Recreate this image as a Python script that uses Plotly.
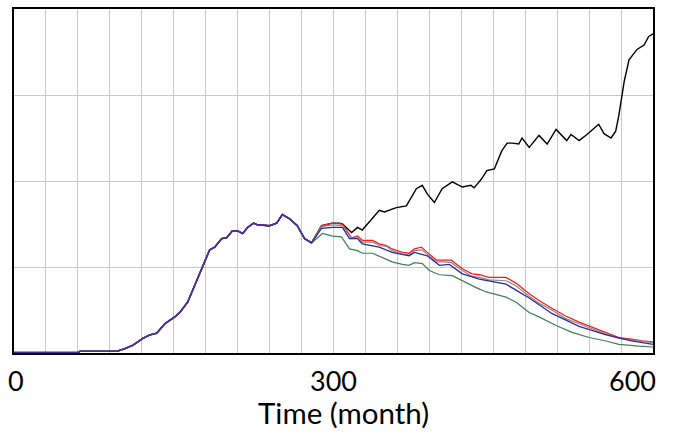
import plotly.graph_objects as go

# Shared trajectory (all runs identical up to ~month 279)
common_month = [0, 60, 62, 96, 96.6, 104, 111.6, 121, 127.5, 134, 141.6, 151, 155.6, 163, 169.7,
                177, 183.75, 188.4, 195, 199.7, 205, 210, 214.7, 219.4, 225, 228.75, 240, 246.6,
                252, 258.75, 266, 272.8, 279.4]
common_value = [0.005, 0.005, 0.02, 0.02, 0.02, 0.05, 0.09, 0.17, 0.21, 0.23, 0.34, 0.42, 0.47, 0.59, 0.79,
                1.02, 1.20, 1.23, 1.33, 1.34, 1.42, 1.42, 1.39, 1.46, 1.51, 1.49, 1.48, 1.51,
                1.61, 1.56, 1.48, 1.33, 1.28]

black_month = [288.75, 299, 305.6, 308.4, 317, 322.5, 327, 336.6, 343, 347.8, 359, 368.4, 377.8, 383.4,
               388, 394.7, 402, 411.6, 421, 429, 432, 438.75, 444, 451, 458, 463, 468, 474, 477, 483.75,
               493, 500.6, 509, 519, 523, 530.6, 538, 549, 554, 560.6, 565, 568, 573, 577.5, 585,
               591.6, 596, 600]
black_value = [1.48, 1.51, 1.51, 1.50, 1.40, 1.46, 1.43, 1.57, 1.66, 1.64, 1.69, 1.71, 1.91, 1.95,
               1.85, 1.75, 1.91, 1.99, 1.93, 1.95, 1.92, 2.02, 2.12, 2.14, 2.35, 2.44, 2.44, 2.43, 2.50, 2.39,
               2.53, 2.43, 2.60, 2.47, 2.54, 2.47, 2.54, 2.66, 2.55, 2.50, 2.58, 2.77, 3.16, 3.41, 3.53,
               3.58, 3.68, 3.71]

red_month = [288.75, 299, 308.4, 317, 322.5, 327, 336.6, 343, 349.7, 355, 364.7, 371, 376, 382.5, 388,
             396.6, 404, 410.6, 421, 430, 437, 446, 462, 471.6, 483.75, 493, 505, 518, 530.6, 542.8,
             556, 568, 580, 589.7, 600]
red_value = [1.48, 1.51, 1.50, 1.34, 1.36, 1.31, 1.31, 1.27, 1.25, 1.21, 1.17, 1.16, 1.21, 1.23, 1.17,
             1.08, 1.08, 1.08, 0.98, 0.92, 0.91, 0.88, 0.88, 0.81, 0.69, 0.61, 0.52, 0.43, 0.36, 0.30,
             0.23, 0.18, 0.16, 0.14, 0.13]

gray_month = red_month
gray_value = [1.47, 1.49, 1.48, 1.33, 1.35, 1.29, 1.29, 1.25, 1.24, 1.19, 1.15, 1.14, 1.19, 1.20, 1.15,
              1.06, 1.06, 1.05, 0.96, 0.89, 0.88, 0.85, 0.84, 0.78, 0.66, 0.58, 0.50, 0.40, 0.34, 0.28,
              0.22, 0.17, 0.15, 0.13, 0.12]

blue_month = [288.75, 299, 308.4, 315, 322.5, 327, 343, 355, 371, 376, 388, 399.4, 408.75, 421, 437,
              462, 483.75, 505, 530.6, 556, 580, 600]
blue_value = [1.45, 1.46, 1.46, 1.33, 1.33, 1.27, 1.23, 1.17, 1.13, 1.17, 1.13, 1.02, 1.03, 0.92, 0.86,
              0.80, 0.64, 0.46, 0.31, 0.21, 0.14, 0.10]

green_month = [289.7, 299, 307.5, 315, 322.5, 327, 336.6, 346, 355, 364.7, 371, 376, 383.4, 390, 399.4,
               411.6, 421, 434, 443.4, 462, 471.6, 483.75, 493, 509, 524, 540, 556, 568, 587, 600]
green_value = [1.39, 1.36, 1.35, 1.21, 1.19, 1.16, 1.16, 1.11, 1.06, 1.03, 1.02, 1.05, 1.04, 0.96, 0.91,
               0.90, 0.84, 0.76, 0.71, 0.65, 0.59, 0.47, 0.42, 0.32, 0.24, 0.18, 0.14, 0.10, 0.08, 0.07]

x_tick_values = [0, 300, 600]
x_tick_labels = ["0", "300", "600"]
x_title = "Time (month)"

series = [
    ("black", black_month, black_value, "#000000", 1.4),
    ("green", green_month, green_value, "#3f7f55", 1.2),
    ("red", red_month, red_value, "#ff1a1a", 1.3),
    ("gray", gray_month, gray_value, "#8c8c8c", 1.2),
    ("blue", blue_month, blue_value, "#2b2ba0", 1.3),
]

fig = go.Figure()
for name, mx, vy, color, w in series:
    fig.add_trace(go.Scatter(
        x=common_month + mx, y=common_value + vy, mode="lines", name=name,
        line=dict(color=color, width=w),
        hoverinfo="skip", showlegend=False,
    ))
# overlapping runs blend into a purple line on the shared section
fig.add_trace(go.Scatter(x=common_month, y=common_value, mode="lines", line=dict(color="#4b2f98", width=1.6),
                         hoverinfo="skip", showlegend=False))

fig.update_layout(
    width=673, height=433,
    margin=dict(l=14, r=20, t=7, b=80),
    paper_bgcolor="white", plot_bgcolor="white",
    font=dict(family="Lato, Noto Sans, sans-serif", color="black"),
)
fig.update_xaxes(range=[0, 600], dtick=30, tick0=0, showgrid=True, gridcolor="#c8c8c8", gridwidth=1,
                 showticklabels=False, ticks="", zeroline=False,
                 showline=True, linecolor="black", linewidth=2, mirror=True)
fig.update_yaxes(range=[0, 4], dtick=1, tick0=0, showgrid=True, gridcolor="#c8c8c8", gridwidth=1,
                 showticklabels=False, ticks="", zeroline=False,
                 showline=True, linecolor="black", linewidth=2, mirror=True)

anchors = {0: ("center", 2), 300: ("center", 0), 600: ("right", 5)}
for v, lab in zip(x_tick_values, x_tick_labels):
    xa, xs = anchors[v]
    fig.add_annotation(x=v, xref="x", y=0, yref="paper", text=lab, showarrow=False,
                       xanchor=xa, yanchor="middle", xshift=xs, yshift=-27,
                       font=dict(size=27, family="Lato, sans-serif", color="black"))
fig.add_annotation(x=0.5, xref="paper", y=0, yref="paper", text=x_title, showarrow=False,
                   xanchor="center", yanchor="middle", xshift=10, yshift=-59,
                   font=dict(size=29.5, family="Lato, sans-serif", color="black"))

fig.write_html("out.html")
